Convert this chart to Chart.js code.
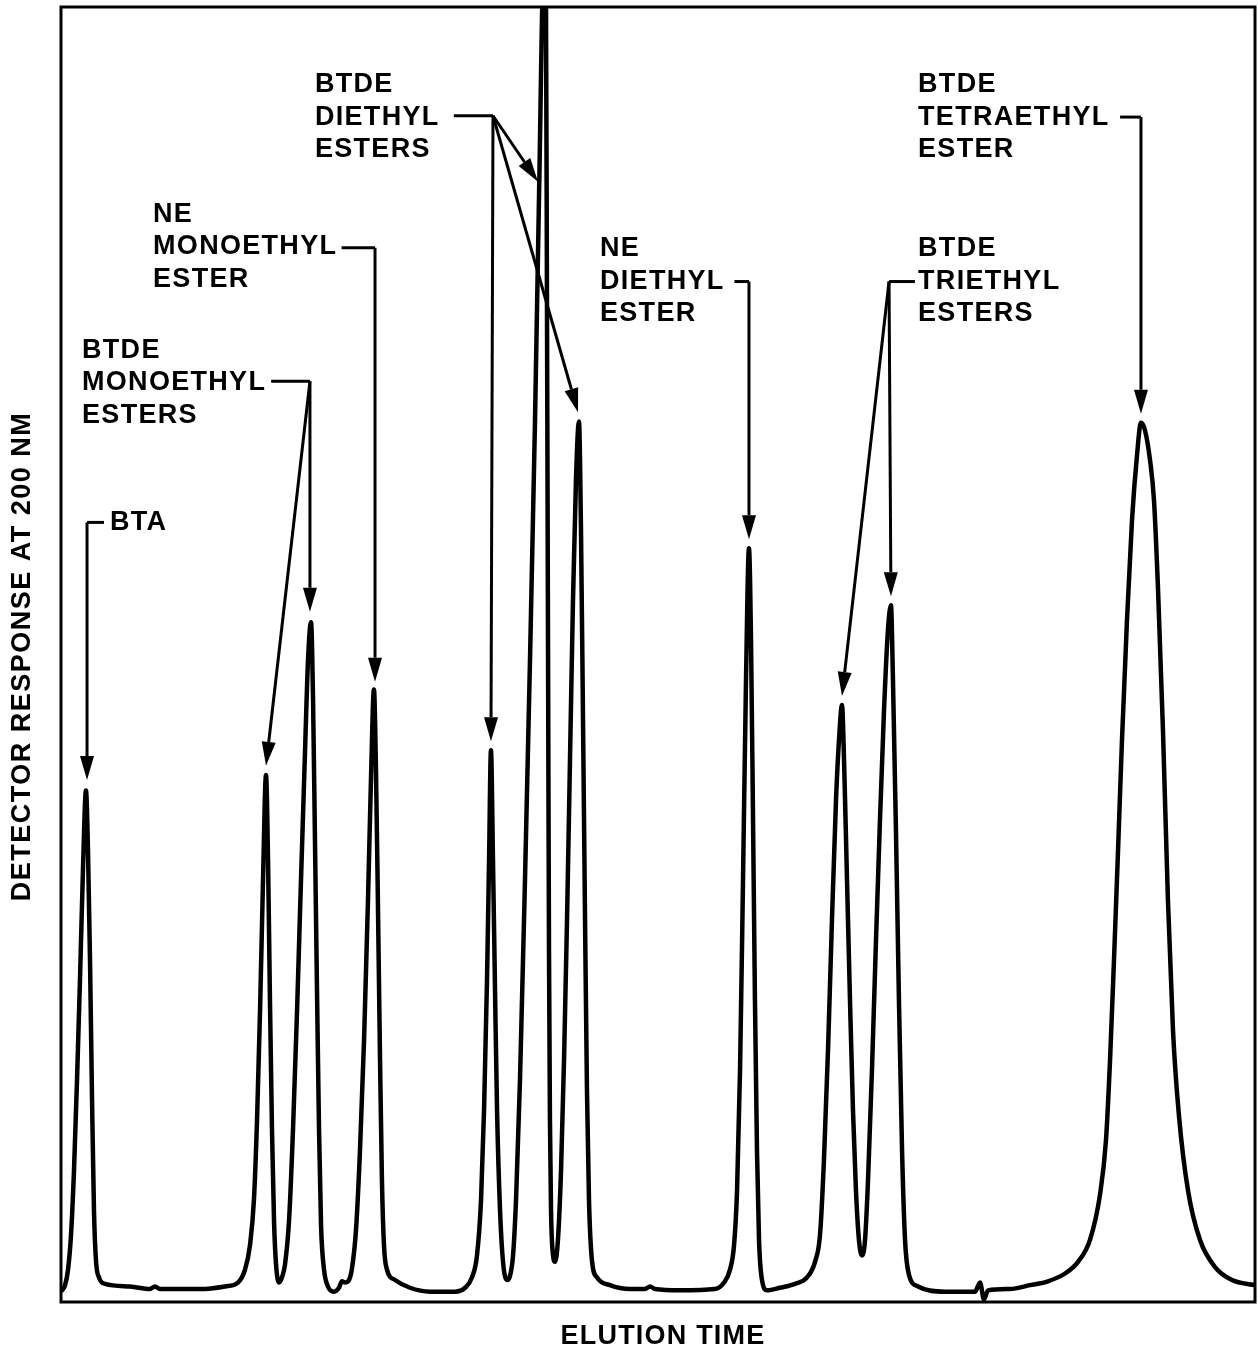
<!DOCTYPE html>
<html>
<head>
<meta charset="utf-8">
<script src="https://cdn.jsdelivr.net/npm/chart.js@4.4.1/dist/chart.umd.min.js"></script>
<style>
  html, body { margin: 0; padding: 0; background: #fff; }
  #grafico { display: block; }
</style>
</head>
<body>
<canvas id="grafico" width="1258" height="1354"></canvas>
<script>
// chromatogram trace (time and response in arbitrary units, 0-100)
const elutionTime = [
    0.0, 0.34, 0.59, 0.84, 1.09, 1.34, 1.59, 1.84, 2.09, 2.26, 2.43, 2.60, 2.76, 2.93, 3.18, 3.69,
    5.78, 7.45, 7.87, 8.29, 11.64, 13.74,
    14.82, 15.41, 15.83, 16.16, 16.42, 16.67, 16.92, 17.17, 17.34, 17.50, 17.67, 17.84, 18.01, 18.26, 18.51,
    18.76, 19.10, 19.43, 19.77, 20.10, 20.44, 20.69, 20.94, 21.11, 21.27, 21.44, 21.61, 21.78, 22.03, 22.36,
    22.86, 23.28, 23.53, 23.79, 24.12,
    24.37, 24.71, 25.04, 25.38, 25.71, 25.96, 26.21, 26.38, 26.55, 26.72, 26.88, 27.05, 27.30, 27.97, 29.23,
    30.90, 33.00, 33.84,
    34.42, 34.84, 35.18, 35.43, 35.68, 35.85, 36.01, 36.18, 36.35, 36.52, 36.77, 37.02, 37.35, 37.60,
    37.86, 38.11, 38.44, 38.86, 39.28, 39.70, 40.03, 40.45, 40.62, 40.70, 40.79, 40.87, 40.95, 41.04, 41.21, 41.37,
    41.62, 41.88, 42.13, 42.38, 42.63, 42.88, 43.13, 43.38, 43.55, 43.72, 43.89, 44.05, 44.22, 44.47, 44.89,
    45.98, 47.66, 48.91, 49.33, 49.75, 51.84, 54.77,
    55.53, 56.03, 56.37, 56.62, 56.87, 57.12, 57.37, 57.62, 57.79, 57.96, 58.12, 58.29, 58.46, 58.71, 59.13,
    60.22, 61.47, 62.48, 63.15,
    63.57, 63.90, 64.24, 64.57, 64.91, 65.16, 65.41, 65.58, 65.83, 66.08, 66.33, 66.58, 66.83, 67.09,
    67.34, 67.59, 67.92, 68.26, 68.59, 68.93, 69.26, 69.51, 69.68, 69.93, 70.18, 70.44, 70.69, 71.02, 71.78,
    74.04, 76.55, 76.97, 77.30, 77.64, 79.48, 81.16, 82.66,
    84.09, 85.18, 86.18, 87.02, 87.52, 87.86, 88.19, 88.53, 88.86, 89.28, 89.70, 90.12, 90.45, 90.79, 91.21,
    91.54, 91.88, 92.29, 92.71, 93.13, 93.63, 94.39, 95.39, 96.65, 98.07, 100.0
];
const response = [
    0.8, 1.3, 2.5, 5.2, 10.2, 17.1, 24.9, 33.4, 39.5, 34.9, 26.4, 15.6, 7.1, 3.2, 1.9, 1.4,
    1.2, 1.0, 1.2, 1.0, 1.0, 1.2,
    1.5, 2.5, 4.4, 7.9, 14.1, 22.5, 32.6, 40.7, 34.1, 23.3, 13.3, 6.3, 2.9, 1.5, 1.9,
    2.9, 6.3, 13.3, 22.5, 32.6, 42.6, 49.6, 52.5, 46.5, 35.7, 24.1, 13.3, 5.9, 2.5, 1.2,
    0.8, 1.1, 1.6, 1.5, 1.7,
    2.6, 5.6, 11.7, 20.2, 31.0, 40.3, 47.3, 41.1, 30.3, 18.7, 9.4, 4.4, 2.5, 1.7, 1.1,
    0.8, 0.8, 1.1,
    1.9, 3.6, 7.9, 14.8, 24.9, 34.1, 42.6, 34.1, 24.1, 14.8, 7.1, 3.1, 1.7, 2.0,
    3.6, 7.9, 17.1, 32.6, 49.6, 68.1, 85.1, 103.6, 99.8, 77.4, 50.3, 27.2, 14.1, 7.1, 3.6, 3.1,
    4.8, 10.2, 18.7, 29.5, 41.9, 54.2, 63.5, 68.0, 59.6, 44.9, 29.5, 16.4, 7.9, 3.2, 1.9,
    1.3, 1.0, 1.0, 1.2, 1.0, 0.9, 1.0,
    1.5, 2.5, 4.4, 8.6, 17.9, 32.6, 48.0, 58.2, 51.1, 37.2, 23.3, 11.7, 4.8, 1.7, 0.9,
    1.1, 1.4, 1.9, 3.1,
    5.2, 11.0, 19.5, 29.5, 38.8, 43.4, 46.1, 41.9, 32.6, 23.3, 14.8, 8.6, 4.8, 3.6,
    4.8, 9.4, 17.9, 28.0, 37.2, 45.7, 51.9, 53.8, 48.0, 36.4, 23.3, 11.7, 4.8, 2.1, 1.2,
    0.8, 0.8, 1.5, 0.2, 0.9, 1.0, 1.3, 1.6,
    2.2, 3.1, 4.8, 8.3, 12.5, 18.7, 26.4, 34.9, 43.4, 52.7, 60.4, 65.4, 67.9, 67.3, 65.0,
    61.9, 55.0, 44.2, 31.0, 21.0, 14.4, 8.6, 4.8, 2.7, 1.7, 1.3
];

const peakNames = [
    ["BTA"],
    ["BTDE", "MONOETHYL", "ESTERS"],
    ["NE", "MONOETHYL", "ESTER"],
    ["BTDE", "DIETHYL", "ESTERS"],
    ["NE", "DIETHYL", "ESTER"],
    ["BTDE", "TRIETHYL", "ESTERS"],
    ["BTDE", "TETRAETHYL", "ESTER"]
];

const xTitle = "ELUTION TIME";
const yTitle = "DETECTOR RESPONSE AT 200 NM";

// label placement in axis units: text start, leader elbow, stub end and arrow tips
const callouts = [
    { text: [4.10, 60.2], elbow: [2.18, 60.2], stub: 3.60, tips: [[2.18, 40.3]] },
    { text: [1.76, 71.0], elbow: [20.85, 71.1], stub: 17.60, tips: [[20.85, 53.3], [17.17, 41.4]] },
    { text: [7.71, 81.5], elbow: [26.30, 81.4], stub: 23.50, tips: [[26.30, 47.9]] },
    { text: [21.27, 91.5], elbow: [36.18, 91.6], stub: 32.9, tips: [[36.01, 43.3], [39.95, 86.5], [43.30, 68.7]] },
    { text: [45.14, 78.8], elbow: [57.62, 78.8], stub: 56.40, tips: [[57.62, 58.9]] },
    { text: [71.78, 78.8], elbow: [69.35, 78.8], stub: 71.52, tips: [[69.51, 54.5], [65.41, 46.8]] },
    { text: [71.78, 91.5], elbow: [90.45, 91.5], stub: 88.70, tips: [[90.45, 68.6]] }
];

const FUENTE = '"Liberation Sans", Arial, Helvetica, sans-serif';

function flecha(ctx, x1, y1, x2, y2) {
    const ang = Math.atan2(y2 - y1, x2 - x1);
    const largo = 24, ancho = 7;
    const bx = x2 - largo * Math.cos(ang);
    const by = y2 - largo * Math.sin(ang);
    ctx.beginPath();
    ctx.moveTo(x1, y1);
    ctx.lineTo(bx, by);
    ctx.stroke();
    ctx.beginPath();
    ctx.moveTo(x2, y2);
    ctx.lineTo(bx + ancho * Math.sin(ang), by - ancho * Math.cos(ang));
    ctx.lineTo(bx - ancho * Math.sin(ang), by + ancho * Math.cos(ang));
    ctx.closePath();
    ctx.fill();
}

const decorado = {
    id: "decorado",
    afterDraw(chart) {
        const { ctx, chartArea: area, scales } = chart;
        const px = v => scales.x.getPixelForValue(v);
        const py = v => scales.y.getPixelForValue(v);

        ctx.save();
        ctx.strokeStyle = "#000";
        ctx.fillStyle = "#000";

        // marco
        ctx.lineWidth = 3;
        ctx.strokeRect(area.left, area.top, area.right - area.left, area.bottom - area.top);

        // etiquetas con sus flechas
        ctx.font = "bold 27px " + FUENTE;
        ctx.letterSpacing = "1.3px";
        ctx.textBaseline = "middle";
        ctx.textAlign = "left";
        ctx.lineWidth = 3;
        ctx.lineCap = "butt";
        callouts.forEach((c, i) => {
            const lineas = peakNames[i];
            const medio = (lineas.length - 1) / 2;
            lineas.forEach((t, k) => {
                ctx.fillText(t, px(c.text[0]), py(c.text[1]) + (k - medio) * 32.5);
            });
            const ex = px(c.elbow[0]), ey = py(c.elbow[1]);
            ctx.beginPath();
            ctx.moveTo(px(c.stub), ey);
            ctx.lineTo(ex, ey);
            ctx.stroke();
            c.tips.forEach(t => flecha(ctx, ex, ey, px(t[0]), py(t[1])));
        });

        // títulos de los ejes
        ctx.letterSpacing = "1.2px";
        ctx.textAlign = "center";
        ctx.fillText(xTitle, (area.left + area.right) / 2 + 5, area.bottom + 35);
        ctx.translate(23, (area.top + area.bottom) / 2 + 2);
        ctx.rotate(-Math.PI / 2);
        ctx.letterSpacing = "1.5px";
        ctx.fillText(yTitle, 0, 0);
        ctx.restore();
    }
};

const ctx = document.getElementById("grafico").getContext("2d");
window.miGrafico = new Chart(ctx, {
    type: "line",
    data: {
        datasets: [{
            label: "Cromatograma",
            data: elutionTime.map((t, i) => ({ x: t, y: response[i] })),
            borderColor: "#000",
            borderWidth: 4.5,
            pointRadius: 0,
            fill: false,
            cubicInterpolationMode: "monotone",
            borderJoinStyle: "round",
            clip: 0
        }]
    },
    options: {
        responsive: false,
        animation: false,
        devicePixelRatio: 1,
        layout: { padding: { left: 61, top: 7, right: 3, bottom: 52 } },
        plugins: { legend: { display: false }, tooltip: { enabled: false } },
        scales: {
            x: { type: "linear", min: 0, max: 100, display: false },
            y: { type: "linear", min: 0, max: 100, display: false }
        }
    },
    plugins: [decorado]
});
</script>
</body>
</html>
